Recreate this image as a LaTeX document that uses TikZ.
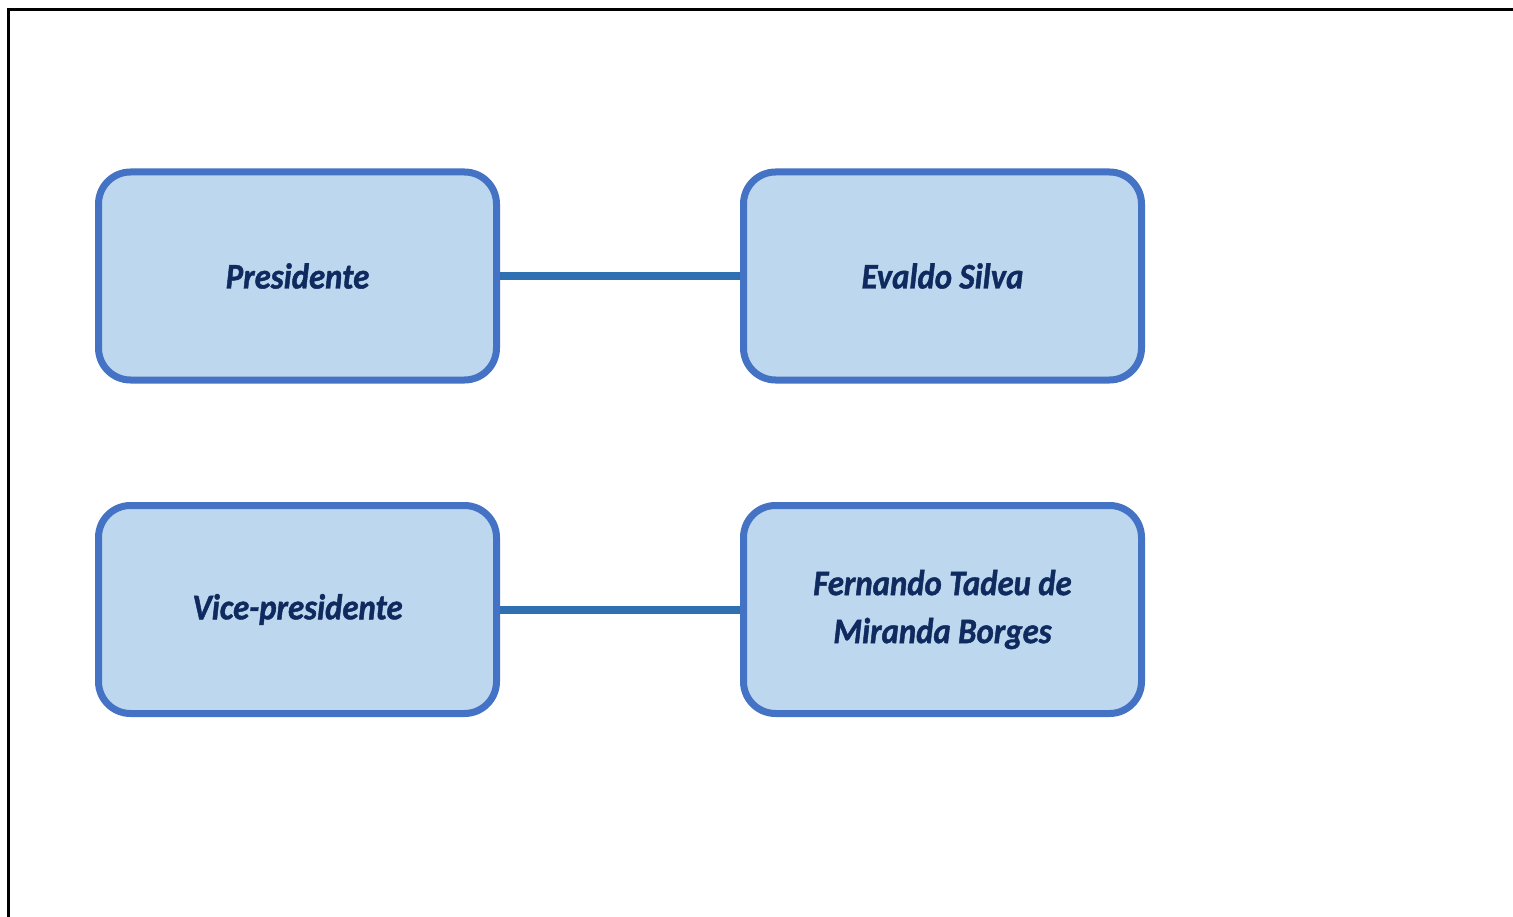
\documentclass[tikz,border=0pt]{standalone}
\usepackage{fontspec}
\newfontfamily\cargofont[FakeStretch=0.91, BoldItalicFeatures={FakeBold=1.2}]{Carlito}
\definecolor{caixafundo}{HTML}{BDD7EE}
\definecolor{caixaborda}{HTML}{4472C4}
\definecolor{ligacaocor}{HTML}{2E70B2}
\definecolor{textocor}{HTML}{0F2A5E}
\tikzset{
  cargo/.style={rectangle, rounded corners=32pt, draw=caixaborda, fill=caixafundo,
    line width=7pt, minimum width=398pt, minimum height=208pt, align=center,
    text=textocor, font=\cargofont\bfseries\itshape\fontsize{36}{48}\selectfont},
  ligacao/.style={draw=ligacaocor, line width=8pt}
}
\begin{document}
\begin{tikzpicture}[x=1pt, y=-1pt]
    \useasboundingbox (0,0) rectangle (1513,917);
    \draw[line width=3pt] (8,917) -- (8,10) -- (1513,10);

    \node[cargo] (pres) at (297.5,276) {Presidente};
    \node[cargo] (evaldo) at (942.5,276) {Evaldo Silva};
    \node[cargo] (vice) at (297.5,609.5) {Vice-presidente};
    \node[cargo] (fernando) at (942.5,609.5) {Fernando Tadeu de\\Miranda Borges};


    \draw[ligacao] (pres) -- (evaldo);
    \draw[ligacao] (vice) -- (fernando);
  \end{tikzpicture}
\end{document}
